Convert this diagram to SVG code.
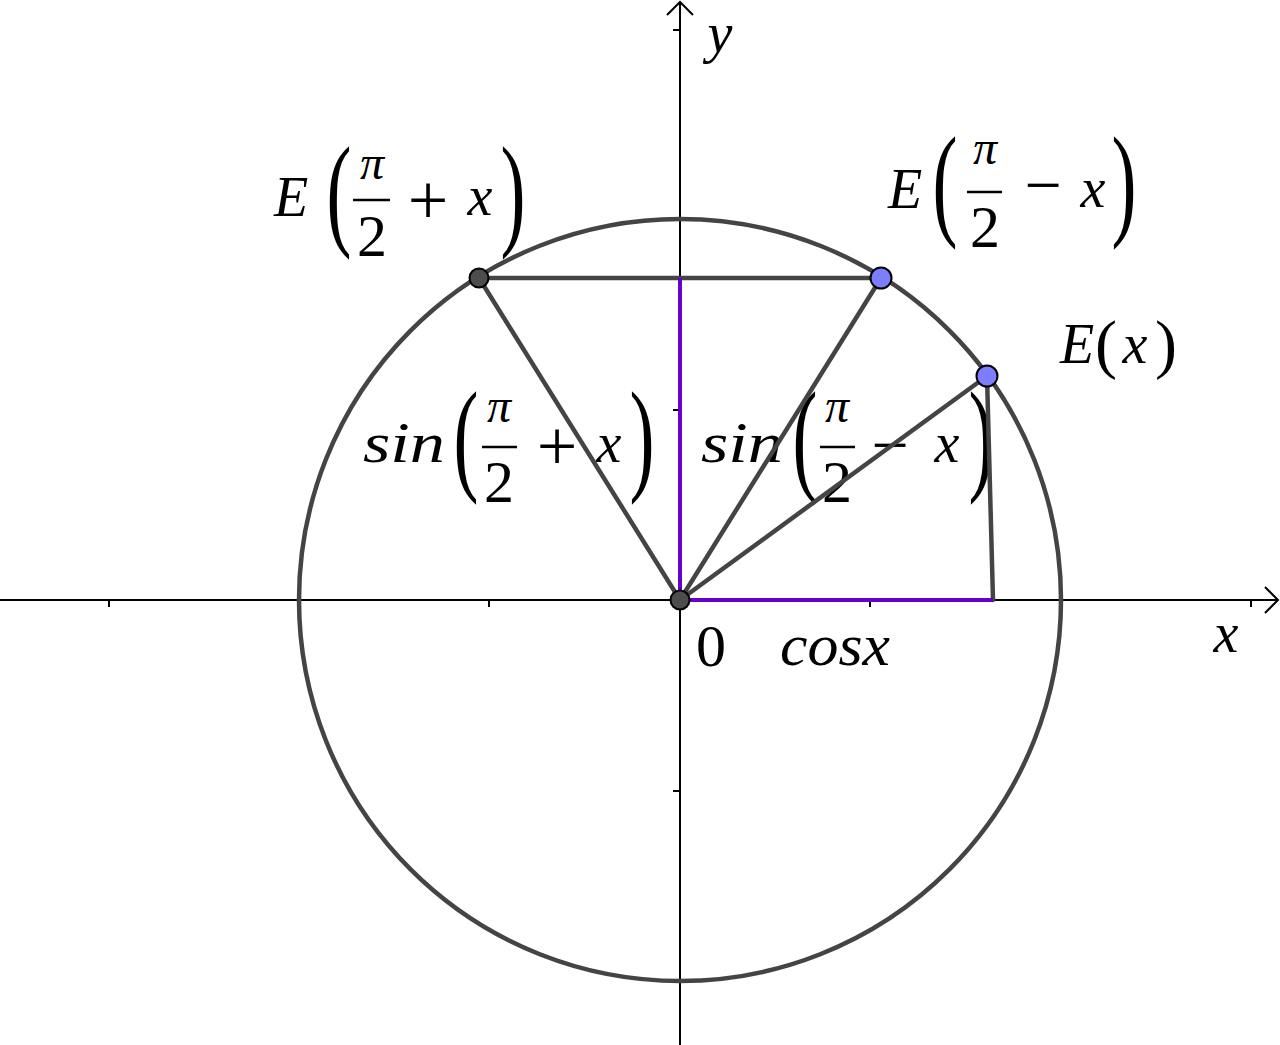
<svg xmlns="http://www.w3.org/2000/svg" width="1280" height="1045" viewBox="0 0 1280 1045">
<style>
.ax{stroke:#000;stroke-width:2;fill:none}
.tk{stroke:#000;stroke-width:2}
.seg{stroke:#444;stroke-width:4.5;fill:none;stroke-linecap:round}
.pur{stroke:#6600cc;stroke-width:4;fill:none}
.it{font-family:'Liberation Serif','Times New Roman',serif;font-style:italic;font-size:56px;fill:#000}
.up{font-family:'Liberation Serif','Times New Roman',serif;font-style:normal;font-size:60px;fill:#000}
.bar{stroke:#000;stroke-width:2.5}
.ptd{fill:#4d4d4d;stroke:#000;stroke-width:2}
.ptb{fill:#7d7dff;stroke:#000;stroke-width:2}
</style>
<rect width="1280" height="1045" fill="#fff"/>
<g id="axes">
<line class="ax" x1="0" y1="600" x2="1277" y2="600"/>
<polyline class="ax" points="1265,587 1278,600 1265,613"/>
<line class="ax" x1="680" y1="1045" x2="680" y2="2"/>
<polyline class="ax" points="667,15 680,2 693,15"/>
<g id="ticks">
<line class="tk" x1="109" y1="600" x2="109" y2="607"/>
<line class="tk" x1="299" y1="600" x2="299" y2="607"/>
<line class="tk" x1="489" y1="600" x2="489" y2="607"/>
<line class="tk" x1="870" y1="600" x2="870" y2="607"/>
<line class="tk" x1="1061" y1="600" x2="1061" y2="607"/>
<line class="tk" x1="1251" y1="600" x2="1251" y2="607"/>
<line class="tk" x1="673" y1="30" x2="680" y2="30"/>
<line class="tk" x1="673" y1="220" x2="680" y2="220"/>
<line class="tk" x1="673" y1="410" x2="680" y2="410"/>
<line class="tk" x1="673" y1="791" x2="680" y2="791"/>
<line class="tk" x1="673" y1="981" x2="680" y2="981"/>
</g>
<text class="it" x="720" y="52" text-anchor="middle">y</text>
<text class="it" x="1226" y="652" text-anchor="middle">x</text>
</g>
<g id="circle">
<circle cx="680" cy="600" r="381" class="seg"/>
</g>
<g id="labels">
<g id="label-E-plus">
<text class="it" x="291" y="216" text-anchor="middle">E</text>
<text class="up" transform="translate(339,233) scale(0.6,1)" text-anchor="middle" style="font-size:125px">(</text>
<text class="it" x="372" y="179" text-anchor="middle" style="font-size:48px">π</text>
<line class="bar" x1="353" y1="200" x2="390" y2="200"/>
<text class="up" x="372" y="256" text-anchor="middle">2</text>
<text class="up" x="428" y="224" text-anchor="middle" style="font-size:72px">+</text>
<text class="it" x="480" y="215" text-anchor="middle">x</text>
<text class="up" transform="translate(513,233) scale(0.6,1)" text-anchor="middle" style="font-size:125px">)</text>
</g>
<g id="label-E-minus">
<text class="it" x="905" y="208" text-anchor="middle">E</text>
<text class="up" transform="translate(945,223) scale(0.6,1)" text-anchor="middle" style="font-size:125px">(</text>
<text class="it" x="985" y="164" text-anchor="middle" style="font-size:48px">π</text>
<line class="bar" x1="967" y1="192" x2="1002" y2="192"/>
<text class="up" x="985" y="247" text-anchor="middle">2</text>
<text class="up" x="1043" y="207" text-anchor="middle" style="font-size:66px">−</text>
<text class="it" x="1093" y="207" text-anchor="middle">x</text>
<text class="up" transform="translate(1124,223) scale(0.6,1)" text-anchor="middle" style="font-size:125px">)</text>
</g>
<g id="label-Ex">
<text class="it" x="1077" y="363" text-anchor="middle">E</text>
<text class="up" x="1106" y="366" text-anchor="middle" style="font-size:66px">(</text>
<text class="it" x="1135" y="363" text-anchor="middle">x</text>
<text class="up" x="1166" y="366" text-anchor="middle" style="font-size:66px">)</text>
</g>
<g id="label-sin-plus">
<text class="it" x="363" y="462" textLength="82" lengthAdjust="spacingAndGlyphs">sin</text>
<text class="up" transform="translate(466,478) scale(0.6,1)" text-anchor="middle" style="font-size:125px">(</text>
<text class="it" x="499" y="422" text-anchor="middle" style="font-size:48px">π</text>
<line class="bar" x1="482" y1="447" x2="517" y2="447"/>
<text class="up" x="499" y="502" text-anchor="middle">2</text>
<text class="up" x="557" y="470" text-anchor="middle" style="font-size:72px">+</text>
<text class="it" x="609" y="462" text-anchor="middle">x</text>
<text class="up" transform="translate(642,478) scale(0.6,1)" text-anchor="middle" style="font-size:125px">)</text>
</g>
<g id="label-sin-minus">
<text class="it" x="701" y="462" textLength="82" lengthAdjust="spacingAndGlyphs">sin</text>
<text class="up" transform="translate(805,478) scale(0.6,1)" text-anchor="middle" style="font-size:125px">(</text>
<text class="it" x="837" y="422" text-anchor="middle" style="font-size:48px">π</text>
<line class="bar" x1="820" y1="447" x2="855" y2="447"/>
<text class="up" x="837" y="502" text-anchor="middle">2</text>
<text class="up" x="890" y="467" text-anchor="middle" style="font-size:66px">−</text>
<text class="it" x="947" y="462" text-anchor="middle">x</text>
<text class="up" transform="translate(981,478) scale(0.6,1)" text-anchor="middle" style="font-size:125px">)</text>
</g>
<text id="label-0" class="up" x="711" y="666" text-anchor="middle">0</text>
<text id="label-cosx" class="it" x="780" y="665" textLength="110" lengthAdjust="spacingAndGlyphs" style="font-size:60px">cosx</text>
</g>
<g id="connectors">
<line class="seg" x1="479" y1="278" x2="881" y2="278"/>
<line class="seg" x1="479" y1="278" x2="680" y2="600"/>
<line class="seg" x1="881" y1="278" x2="680" y2="600"/>
<line class="seg" x1="987" y1="376" x2="680" y2="600"/>
<line class="seg" x1="987" y1="376" x2="993" y2="600"/>
<line class="pur" x1="680" y1="600" x2="680" y2="278"/>
<line class="pur" x1="680" y1="600" x2="993" y2="600"/>
</g>
<g id="point-origin"><circle class="ptd" cx="680" cy="600" r="9.5"/></g>
<g id="point-E-plus"><circle class="ptd" cx="479" cy="278" r="9.5"/></g>
<g id="point-E-minus"><circle class="ptb" cx="881" cy="278" r="10.5"/></g>
<g id="point-Ex"><circle class="ptb" cx="987" cy="376" r="10.5"/></g>
</svg>
